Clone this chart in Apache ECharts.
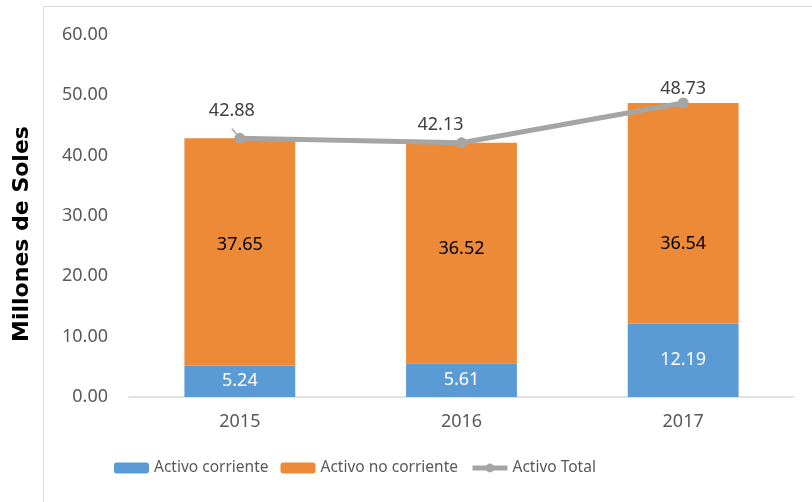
<!DOCTYPE html>
<html>
<head>
<meta charset="utf-8">
<script src="https://cdn.jsdelivr.net/npm/echarts@6/dist/echarts.min.js"></script>
<style>
  html, body { margin: 0; padding: 0; background: #fff; }
  #main { width: 812px; height: 502px; }
</style>
</head>
<body>
<div id="main"></div>
<script>
var myChart = echarts.init(document.getElementById('main'));

var years = ['2015', '2016', '2017'];
var corriente = [5.24, 5.61, 12.19];
var noCorriente = [37.65, 36.52, 36.54];
var total = [42.88, 42.13, 48.73];

// label nudges, as placed in the original sheet
var noCorrienteShift = [[0, -7], [0, -4], [0, 31]];
var totalShift = [[-8, -13], [-21, -3], [0, 0]];

var font = 'Noto Sans';
var fmt = function (p) { return p.value.toFixed(2); };

option = {
    animation: false,
    textStyle: { fontFamily: font },
    graphic: [
        {
            type: 'rect',
            shape: { x: 43.5, y: 6.5, width: 800, height: 600 },
            style: { fill: 'none', stroke: '#d9d9d9', lineWidth: 1 },
            silent: true
        },
        {
            type: 'text',
            x: 22,
            y: 234,
            rotation: Math.PI / 2,
            style: {
                text: 'Millones de Soles',
                fontFamily: 'DejaVu Sans',
                fontWeight: 'bold',
                fontSize: 22,
                fill: '#000',
                align: 'center',
                verticalAlign: 'middle'
            }
        }
    ],
    grid: { left: 129, right: 18, top: 35, bottom: 105 },
    legend: {
        bottom: 21,
        left: 109,
        itemWidth: 35,
        itemHeight: 11,
        itemGap: 12,
        textStyle: { fontSize: 15.5, color: '#595959', fontFamily: font },
        data: [
            'Activo corriente',
            'Activo no corriente',
            { name: 'Activo Total', lineStyle: { width: 5 } }
        ]
    },
    xAxis: {
        type: 'category',
        data: years,
        axisTick: { show: false },
        axisLine: { lineStyle: { color: '#d9d9d9', width: 1.5 } },
        axisLabel: { fontSize: 18, color: '#595959', margin: 16 }
    },
    yAxis: {
        type: 'value',
        min: 0,
        max: 60,
        interval: 10,
        splitLine: { show: false },
        axisLine: { show: false },
        axisTick: { show: false },
        axisLabel: {
            fontSize: 18,
            color: '#595959',
            margin: 21,
            formatter: function (v) { return v.toFixed(2); }
        }
    },
    series: [
        {
            name: 'Activo corriente',
            type: 'bar',
            stack: 'a',
            barWidth: '50%',
            data: corriente,
            itemStyle: { color: '#5b9bd5' },
            label: { show: true, position: 'inside', color: '#fff', fontSize: 18, formatter: fmt }
        },
        {
            name: 'Activo no corriente',
            type: 'bar',
            stack: 'a',
            data: noCorriente.map(function (v, i) {
                return { value: v, label: { offset: noCorrienteShift[i] } };
            }),
            itemStyle: { color: '#ec8a38' },
            label: { show: true, position: 'inside', color: '#000', fontSize: 18, formatter: fmt }
        },
        {
            name: 'Activo Total',
            type: 'line',
            data: total.map(function (v, i) {
                return {
                    value: v,
                    label: { offset: totalShift[i] },
                    labelLine: { show: i === 0 }
                };
            }),
            symbol: 'circle',
            symbolSize: 11,
            lineStyle: { color: '#a5a5a5', width: 5 },
            itemStyle: { color: '#a5a5a5' },
            labelLine: { lineStyle: { color: '#a5a5a5', width: 1.5 } },
            label: {
                show: true,
                position: 'top',
                distance: 0,
                color: '#404040',
                fontSize: 18,
                formatter: fmt
            }
        }
    ]
};

myChart.setOption(option);
</script>
</body>
</html>
